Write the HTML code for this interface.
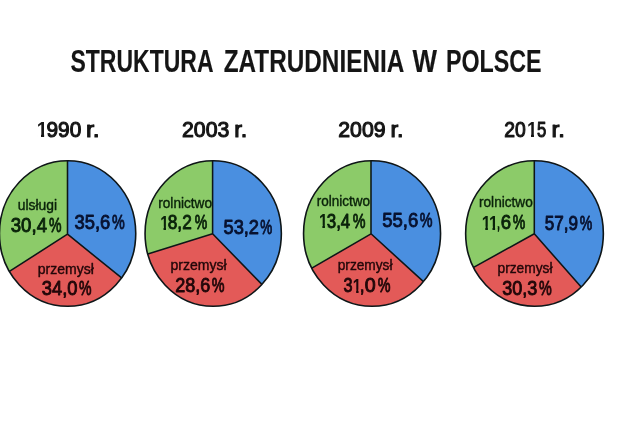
<!DOCTYPE html>
<html lang="pl"><head><meta charset="utf-8"><title>Struktura zatrudnienia w Polsce</title>
<style>
html,body{margin:0;padding:0;background:#fff;}
body{width:640px;height:427px;overflow:hidden;}
svg{display:block;font-family:"Liberation Sans",sans-serif;}
</style></head><body>
<svg width="640" height="427" viewBox="0 0 640 427">
<defs><clipPath id="k1"><rect x="33.90" y="107.30" width="68.20" height="26.47"/><rect x="33.90" y="133.72" width="3.40" height="12"/><rect x="40.98" y="133.72" width="3.15" height="12"/><rect x="47.37" y="133.72" width="54.73" height="12"/></clipPath><clipPath id="k4"><rect x="500.70" y="107.30" width="66.40" height="26.47"/><rect x="500.70" y="133.72" width="26.80" height="12"/><rect x="531.00" y="133.72" width="2.97" height="12"/><rect x="537.04" y="133.72" width="30.06" height="12"/></clipPath><clipPath id="k11"><rect x="157.10" y="199.70" width="53.90" height="26.73"/><rect x="157.10" y="226.38" width="3.40" height="12"/><rect x="163.51" y="226.38" width="2.47" height="12"/><rect x="168.61" y="226.38" width="42.39" height="12"/></clipPath><clipPath id="k16"><rect x="315.90" y="198.45" width="53.50" height="26.73"/><rect x="315.90" y="225.13" width="3.40" height="12"/><rect x="322.39" y="225.13" width="2.55" height="12"/><rect x="327.63" y="225.13" width="41.77" height="12"/></clipPath><clipPath id="k19"><rect x="339.90" y="262.70" width="54.30" height="26.73"/><rect x="339.90" y="289.38" width="13.25" height="12"/><rect x="356.14" y="289.38" width="2.44" height="12"/><rect x="361.18" y="289.38" width="33.02" height="12"/></clipPath><clipPath id="k21"><rect x="478.70" y="199.50" width="50.45" height="26.73"/><rect x="478.70" y="226.18" width="3.40" height="12"/><rect x="485.27" y="226.18" width="2.63" height="12"/><rect x="490.66" y="226.18" width="-1.36" height="12"/><rect x="492.47" y="226.18" width="2.63" height="12"/><rect x="497.86" y="226.18" width="31.29" height="12"/></clipPath></defs>
<rect width="640" height="427" fill="#fff"/>
<ellipse cx="67.6" cy="233.5" rx="68.15" ry="72.8" fill="#e35a58"/>
<path d="M67.5 234.2 L67.50 160.70 A68.15 72.8 0 0 1 121.60 277.92 Z" fill="#4a8fe0"/>
<path d="M67.5 234.2 L67.50 160.70 A68.15 72.8 0 0 0 9.41 271.39 Z" fill="#8ccb69"/>
<path d="M67.50 160.70 L67.5 234.2 L9.41 271.39 M67.5 234.2 L121.60 277.92" fill="none" stroke="#0e1618" stroke-width="1.55" stroke-linejoin="round"/>
<ellipse cx="67.6" cy="233.5" rx="68.15" ry="72.8" fill="none" stroke="#0e1618" stroke-width="1.6"/>
<ellipse cx="213.2" cy="233.5" rx="68.15" ry="72.8" fill="#e35a58"/>
<path d="M212.6 233.8 L212.60 160.70 A68.15 72.8 0 0 1 261.91 284.41 Z" fill="#4a8fe0"/>
<path d="M212.6 233.8 L212.60 160.70 A68.15 72.8 0 0 0 147.80 253.96 Z" fill="#8ccb69"/>
<path d="M212.60 160.70 L212.6 233.8 L147.80 253.96 M212.6 233.8 L261.91 284.41" fill="none" stroke="#0e1618" stroke-width="1.55" stroke-linejoin="round"/>
<ellipse cx="213.2" cy="233.5" rx="68.15" ry="72.8" fill="none" stroke="#0e1618" stroke-width="1.6"/>
<ellipse cx="372.05" cy="233.5" rx="68.5" ry="72.8" fill="#e35a58"/>
<path d="M371.0 233.8 L371.00 160.71 A68.5 72.8 0 0 1 423.44 281.63 Z" fill="#4a8fe0"/>
<path d="M371.0 233.8 L371.00 160.71 A68.5 72.8 0 0 0 311.82 268.18 Z" fill="#8ccb69"/>
<path d="M371.00 160.71 L371.0 233.8 L311.82 268.18 M371.0 233.8 L423.44 281.63" fill="none" stroke="#0e1618" stroke-width="1.55" stroke-linejoin="round"/>
<ellipse cx="372.05" cy="233.5" rx="68.5" ry="72.8" fill="none" stroke="#0e1618" stroke-width="1.6"/>
<ellipse cx="534.5" cy="233.5" rx="68.85" ry="72.8" fill="#e35a58"/>
<path d="M534.3 233.8 L534.30 160.70 A68.85 72.8 0 0 1 581.17 287.02 Z" fill="#4a8fe0"/>
<path d="M534.3 233.8 L534.30 160.70 A68.85 72.8 0 0 0 473.56 267.38 Z" fill="#8ccb69"/>
<path d="M534.30 160.70 L534.3 233.8 L473.56 267.38 M534.3 233.8 L581.17 287.02" fill="none" stroke="#0e1618" stroke-width="1.55" stroke-linejoin="round"/>
<ellipse cx="534.5" cy="233.5" rx="68.85" ry="72.8" fill="none" stroke="#0e1618" stroke-width="1.6"/>
<text><tspan x="70.50" y="71.50" font-size="30.8" font-weight="700" fill="#151515" textLength="143.01" lengthAdjust="spacingAndGlyphs" stroke="#151515" stroke-width="0.15" stroke-linejoin="round">STRUKTURA</tspan> <tspan x="223.75" y="71.50" font-size="30.8" font-weight="700" fill="#151515" textLength="180.51" lengthAdjust="spacingAndGlyphs" stroke="#151515" stroke-width="0.15" stroke-linejoin="round">ZATRUDNIENIA</tspan> <tspan x="412.50" y="71.50" font-size="30.8" font-weight="700" fill="#151515" textLength="24.50" lengthAdjust="spacingAndGlyphs" stroke="#151515" stroke-width="0.15" stroke-linejoin="round">W</tspan> <tspan x="446.00" y="71.50" font-size="30.8" font-weight="700" fill="#151515" textLength="95.56" lengthAdjust="spacingAndGlyphs" stroke="#151515" stroke-width="0.15" stroke-linejoin="round">POLSCE</tspan></text>
<text clip-path="url(#k1)"><tspan x="36.68" y="137.30" font-size="22.5" font-weight="700" fill="#151515" textLength="10.85" lengthAdjust="spacingAndGlyphs">1</tspan><tspan x="46.50" y="137.00" font-size="21.8" font-weight="400" fill="#151515" textLength="34.77" lengthAdjust="spacingAndGlyphs" stroke="#151515" stroke-width="1.1" stroke-linejoin="round">990</tspan> <tspan x="86.00" y="137.00" font-size="21.8" font-weight="400" fill="#151515" textLength="13.75" lengthAdjust="spacingAndGlyphs" stroke="#151515" stroke-width="1.1" stroke-linejoin="round">r.</tspan></text>
<text><tspan x="182.00" y="137.00" font-size="21.8" font-weight="400" fill="#151515" textLength="47.27" lengthAdjust="spacingAndGlyphs" stroke="#151515" stroke-width="1.1" stroke-linejoin="round">2003</tspan> <tspan x="234.25" y="137.00" font-size="21.8" font-weight="400" fill="#151515" textLength="13.05" lengthAdjust="spacingAndGlyphs" stroke="#151515" stroke-width="1.1" stroke-linejoin="round">r.</tspan></text>
<text><tspan x="338.25" y="137.00" font-size="21.8" font-weight="400" fill="#151515" textLength="47.27" lengthAdjust="spacingAndGlyphs" stroke="#151515" stroke-width="1.1" stroke-linejoin="round">2009</tspan> <tspan x="390.50" y="137.00" font-size="21.8" font-weight="400" fill="#151515" textLength="12.98" lengthAdjust="spacingAndGlyphs" stroke="#151515" stroke-width="1.1" stroke-linejoin="round">r.</tspan></text>
<text clip-path="url(#k4)"><tspan x="504.25" y="137.00" font-size="21.8" font-weight="400" fill="#151515" textLength="21.53" lengthAdjust="spacingAndGlyphs" stroke="#151515" stroke-width="1.1" stroke-linejoin="round">20</tspan><tspan x="526.95" y="137.30" font-size="22.5" font-weight="700" fill="#151515" textLength="10.22" lengthAdjust="spacingAndGlyphs">1</tspan><tspan x="537.00" y="137.00" font-size="21.8" font-weight="400" fill="#151515" textLength="9.28" lengthAdjust="spacingAndGlyphs" stroke="#151515" stroke-width="1.1" stroke-linejoin="round">5</tspan> <tspan x="551.50" y="137.00" font-size="21.8" font-weight="400" fill="#151515" textLength="13.28" lengthAdjust="spacingAndGlyphs" stroke="#151515" stroke-width="1.1" stroke-linejoin="round">r.</tspan></text>
<text><tspan x="17.75" y="209.50" font-size="14.2" font-weight="400" fill="#0a220a" textLength="39.31" lengthAdjust="spacingAndGlyphs" stroke="#0a220a" stroke-width="0.4" stroke-linejoin="round">ulsługi</tspan></text>
<text><tspan x="10.75" y="232.00" font-size="19.6" font-weight="400" fill="#0a220a" textLength="36.25" lengthAdjust="spacingAndGlyphs" stroke="#0a220a" stroke-width="0.9" stroke-linejoin="round">30,4</tspan><tspan x="49.00" y="232.00" font-size="19.6" font-weight="400" fill="#0a220a" textLength="12.51" lengthAdjust="spacingAndGlyphs" stroke="#0a220a" stroke-width="0.9" stroke-linejoin="round">%</tspan></text>
<text><tspan x="74.50" y="229.00" font-size="19.6" font-weight="400" fill="#081230" textLength="35.76" lengthAdjust="spacingAndGlyphs" stroke="#081230" stroke-width="0.9" stroke-linejoin="round">35,6</tspan><tspan x="112.00" y="229.00" font-size="19.6" font-weight="400" fill="#081230" textLength="12.76" lengthAdjust="spacingAndGlyphs" stroke="#081230" stroke-width="0.9" stroke-linejoin="round">%</tspan></text>
<text><tspan x="37.75" y="273.85" font-size="14.2" font-weight="400" fill="#220709" textLength="56.01" lengthAdjust="spacingAndGlyphs" stroke="#220709" stroke-width="0.4" stroke-linejoin="round">przemysł</tspan></text>
<text><tspan x="41.75" y="295.40" font-size="19.6" font-weight="400" fill="#220709" textLength="35.77" lengthAdjust="spacingAndGlyphs" stroke="#220709" stroke-width="0.9" stroke-linejoin="round">34,0</tspan><tspan x="79.00" y="295.40" font-size="19.6" font-weight="400" fill="#220709" textLength="12.51" lengthAdjust="spacingAndGlyphs" stroke="#220709" stroke-width="0.9" stroke-linejoin="round">%</tspan></text>
<text><tspan x="158.25" y="207.50" font-size="14.2" font-weight="400" fill="#0a220a" textLength="53.77" lengthAdjust="spacingAndGlyphs" stroke="#0a220a" stroke-width="0.4" stroke-linejoin="round">rolnictwo</tspan></text>
<text clip-path="url(#k11)"><tspan x="160.14" y="229.70" font-size="20.900000000000002" font-weight="700" fill="#0a220a" textLength="8.50" lengthAdjust="spacingAndGlyphs">1</tspan><tspan x="167.75" y="229.20" font-size="19.6" font-weight="400" fill="#0a220a" textLength="24.03" lengthAdjust="spacingAndGlyphs" stroke="#0a220a" stroke-width="0.9" stroke-linejoin="round">8,2</tspan><tspan x="194.75" y="229.20" font-size="19.6" font-weight="400" fill="#0a220a" textLength="12.51" lengthAdjust="spacingAndGlyphs" stroke="#0a220a" stroke-width="0.9" stroke-linejoin="round">%</tspan></text>
<text><tspan x="223.50" y="233.90" font-size="19.6" font-weight="400" fill="#081230" textLength="35.52" lengthAdjust="spacingAndGlyphs" stroke="#081230" stroke-width="0.9" stroke-linejoin="round">53,2</tspan><tspan x="260.25" y="233.90" font-size="19.6" font-weight="400" fill="#081230" textLength="12.01" lengthAdjust="spacingAndGlyphs" stroke="#081230" stroke-width="0.9" stroke-linejoin="round">%</tspan></text>
<text><tspan x="170.50" y="269.85" font-size="14.2" font-weight="400" fill="#220709" textLength="56.01" lengthAdjust="spacingAndGlyphs" stroke="#220709" stroke-width="0.4" stroke-linejoin="round">przemysł</tspan></text>
<text><tspan x="175.25" y="292.20" font-size="19.6" font-weight="400" fill="#220709" textLength="35.02" lengthAdjust="spacingAndGlyphs" stroke="#220709" stroke-width="0.9" stroke-linejoin="round">28,6</tspan><tspan x="211.75" y="292.20" font-size="19.6" font-weight="400" fill="#220709" textLength="12.77" lengthAdjust="spacingAndGlyphs" stroke="#220709" stroke-width="0.9" stroke-linejoin="round">%</tspan></text>
<text><tspan x="316.75" y="206.30" font-size="14.2" font-weight="400" fill="#0a220a" textLength="53.28" lengthAdjust="spacingAndGlyphs" stroke="#0a220a" stroke-width="0.4" stroke-linejoin="round">rolnictwo</tspan></text>
<text clip-path="url(#k16)"><tspan x="318.91" y="228.45" font-size="20.900000000000002" font-weight="700" fill="#0a220a" textLength="8.77" lengthAdjust="spacingAndGlyphs">1</tspan><tspan x="326.75" y="227.95" font-size="19.6" font-weight="400" fill="#0a220a" textLength="23.51" lengthAdjust="spacingAndGlyphs" stroke="#0a220a" stroke-width="0.9" stroke-linejoin="round">3,4</tspan><tspan x="352.75" y="227.95" font-size="19.6" font-weight="400" fill="#0a220a" textLength="12.76" lengthAdjust="spacingAndGlyphs" stroke="#0a220a" stroke-width="0.9" stroke-linejoin="round">%</tspan></text>
<text><tspan x="382.25" y="227.20" font-size="19.6" font-weight="400" fill="#081230" textLength="36.02" lengthAdjust="spacingAndGlyphs" stroke="#081230" stroke-width="0.9" stroke-linejoin="round">55,6</tspan><tspan x="419.75" y="227.20" font-size="19.6" font-weight="400" fill="#081230" textLength="12.76" lengthAdjust="spacingAndGlyphs" stroke="#081230" stroke-width="0.9" stroke-linejoin="round">%</tspan></text>
<text><tspan x="337.75" y="269.90" font-size="14.2" font-weight="400" fill="#220709" textLength="54.76" lengthAdjust="spacingAndGlyphs" stroke="#220709" stroke-width="0.4" stroke-linejoin="round">przemysł</tspan></text>
<text clip-path="url(#k19)"><tspan x="343.50" y="292.20" font-size="19.6" font-weight="400" fill="#220709" textLength="9.05" lengthAdjust="spacingAndGlyphs" stroke="#220709" stroke-width="0.9" stroke-linejoin="round">3</tspan><tspan x="352.80" y="292.70" font-size="20.900000000000002" font-weight="700" fill="#220709" textLength="8.41" lengthAdjust="spacingAndGlyphs">1</tspan><tspan x="359.25" y="292.20" font-size="19.6" font-weight="400" fill="#220709" textLength="16.42" lengthAdjust="spacingAndGlyphs" stroke="#220709" stroke-width="0.9" stroke-linejoin="round">,0</tspan><tspan x="377.75" y="292.20" font-size="19.6" font-weight="400" fill="#220709" textLength="12.76" lengthAdjust="spacingAndGlyphs" stroke="#220709" stroke-width="0.9" stroke-linejoin="round">%</tspan></text>
<text><tspan x="479.00" y="207.20" font-size="14.2" font-weight="400" fill="#0a220a" textLength="53.78" lengthAdjust="spacingAndGlyphs" stroke="#0a220a" stroke-width="0.4" stroke-linejoin="round">rolnictwo</tspan></text>
<text clip-path="url(#k21)"><tspan x="481.68" y="229.50" font-size="20.900000000000002" font-weight="700" fill="#0a220a" textLength="9.04" lengthAdjust="spacingAndGlyphs">1</tspan><tspan x="488.88" y="229.50" font-size="20.900000000000002" font-weight="700" fill="#0a220a" textLength="9.04" lengthAdjust="spacingAndGlyphs">1</tspan><tspan x="495.50" y="229.00" font-size="19.6" font-weight="400" fill="#0a220a" textLength="15.48" lengthAdjust="spacingAndGlyphs" stroke="#0a220a" stroke-width="0.9" stroke-linejoin="round">,6</tspan><tspan x="512.75" y="229.00" font-size="19.6" font-weight="400" fill="#0a220a" textLength="12.51" lengthAdjust="spacingAndGlyphs" stroke="#0a220a" stroke-width="0.9" stroke-linejoin="round">%</tspan></text>
<text><tspan x="544.75" y="229.50" font-size="19.6" font-weight="400" fill="#081230" textLength="33.28" lengthAdjust="spacingAndGlyphs" stroke="#081230" stroke-width="0.9" stroke-linejoin="round">57,9</tspan><tspan x="579.75" y="229.50" font-size="19.6" font-weight="400" fill="#081230" textLength="12.51" lengthAdjust="spacingAndGlyphs" stroke="#081230" stroke-width="0.9" stroke-linejoin="round">%</tspan></text>
<text><tspan x="497.50" y="273.00" font-size="14.2" font-weight="400" fill="#220709" textLength="55.01" lengthAdjust="spacingAndGlyphs" stroke="#220709" stroke-width="0.4" stroke-linejoin="round">przemysł</tspan></text>
<text><tspan x="502.25" y="295.40" font-size="19.6" font-weight="400" fill="#220709" textLength="35.02" lengthAdjust="spacingAndGlyphs" stroke="#220709" stroke-width="0.9" stroke-linejoin="round">30,3</tspan><tspan x="539.00" y="295.40" font-size="19.6" font-weight="400" fill="#220709" textLength="12.76" lengthAdjust="spacingAndGlyphs" stroke="#220709" stroke-width="0.9" stroke-linejoin="round">%</tspan></text>
</svg>
</body></html>
